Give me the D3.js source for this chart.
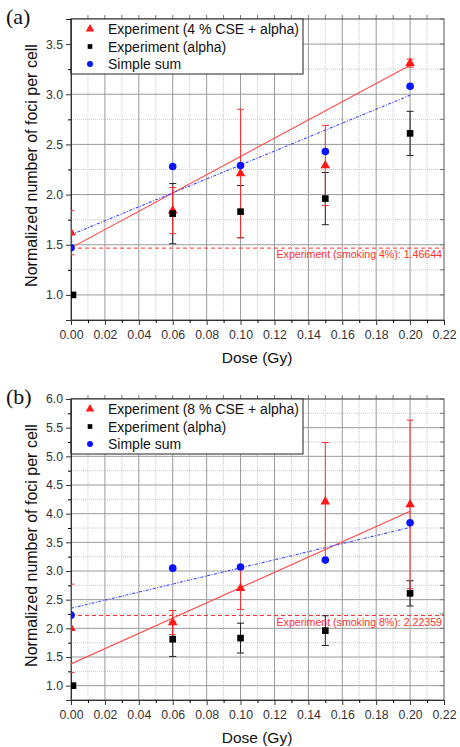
<!DOCTYPE html>
<html>
<head>
<meta charset="utf-8">
<script src="https://cdn.jsdelivr.net/npm/d3@7"></script>
<style>
  body { margin: 0; background: #fff; }
  svg { display: block; font-family: "Liberation Sans", Arial, sans-serif; }
</style>
</head>
<body>
<div id="chart"></div>
<script>
// shared dose points
const doses = [0, 0.06, 0.10, 0.15, 0.20];

// alpha only experiment
const alphaMean = [1.00, 1.81, 1.83, 1.96, 2.61];
const alphaErr = [0, 0.30, 0.26, 0.26, 0.22];

// panel (a): 4 % CSE
const cse4Mean = [1.62, 1.84, 2.21, 2.29, 3.31];
const cse4Err = [0.22, 0.23, 0.64, 0.40, 0.04];
const sum4 = [1.47, 2.28, 2.29, 2.43, 3.08];
const cse4Fit = [1.47, 3.29];   // at dose 0 and 0.20
const sum4Fit = [1.60, 2.99];
const smoking4 = 1.46644;

// panel (b): 8 % CSE
const cse8Mean = [2.00, 2.10, 2.70, 4.21, 4.16];
const cse8Err = [0.77, 0.21, 0.37, 1.03, 1.47];
const sum8 = [2.23, 3.05, 3.07, 3.19, 3.84];
const cse8Fit = [1.38, 4.04];
const sum8Fit = [2.35, 3.76];
const smoking8 = 2.22359;

const fitDoses = [0, 0.20];
const xTicks = d3.range(0, 0.2201, 0.02);
const xMinor = d3.range(0.01, 0.22, 0.02);

const svg = d3.select('#chart').append('svg')
  .attr('width', 460)
  .attr('height', 747);

const panels = [
  {
    tag: '(a)', top: 19, bottom: 320, yDomain: [0.75, 3.75],
    yTicks: d3.range(1.0, 3.51, 0.5), yMinor: d3.range(1.25, 3.76, 0.5),
    cse: cse4Mean, cseErr: cse4Err, sum: sum4, cseFit: cse4Fit, sumFit: sum4Fit,
    smoking: smoking4, cseLabel: 'Experiment (4 % CSE + alpha)',
    smokeLabel: 'Experiment (smoking 4%): 1.46644'
  },
  {
    tag: '(b)', top: 399, bottom: 700, yDomain: [0.75, 6.0],
    yTicks: d3.range(1.0, 6.01, 0.5), yMinor: d3.range(1.25, 5.76, 0.5),
    cse: cse8Mean, cseErr: cse8Err, sum: sum8, cseFit: cse8Fit, sumFit: sum8Fit,
    smoking: smoking8, cseLabel: 'Experiment (8 % CSE + alpha)',
    smokeLabel: 'Experiment (smoking 8%): 2.22359'
  }
];

const left = 71, right = 444;
const red = '#ff1a1a', blue = '#0a14ff';

panels.forEach((p, pi) => {
  const x = d3.scaleLinear().domain([0, 0.22]).range([left, right]);
  const y = d3.scaleLinear().domain(p.yDomain).range([p.bottom, p.top]);
  const g = svg.append('g');

  // minor grid
  g.append('g').selectAll('line').data(xMinor).enter().append('line')
    .attr('x1', d => x(d)).attr('x2', d => x(d))
    .attr('y1', p.top).attr('y2', p.bottom)
    .attr('stroke', '#c8c8c8').attr('stroke-dasharray', '1,1');
  g.append('g').selectAll('line').data(p.yMinor).enter().append('line')
    .attr('x1', left).attr('x2', right)
    .attr('y1', d => y(d)).attr('y2', d => y(d))
    .attr('stroke', '#c8c8c8').attr('stroke-dasharray', '1,1');

  // major grid
  g.append('g').selectAll('line').data(xTicks.slice(1, -1)).enter().append('line')
    .attr('x1', d => x(d)).attr('x2', d => x(d))
    .attr('y1', p.top).attr('y2', p.bottom)
    .attr('stroke', '#9a9a9a');
  g.append('g').selectAll('line').data(p.yTicks).enter().append('line')
    .attr('x1', left).attr('x2', right)
    .attr('y1', d => y(d)).attr('y2', d => y(d))
    .attr('stroke', '#9a9a9a');

  // top / right ticks
  g.append('g').selectAll('line').data(d3.range(0.01, 0.22, 0.01)).enter().append('line')
    .attr('x1', d => x(d)).attr('x2', d => x(d))
    .attr('y1', p.top).attr('y2', p.top - 4)
    .attr('stroke', '#777');
  g.append('g').selectAll('line').data(p.yTicks.concat(p.yMinor)).enter().append('line')
    .attr('x1', right).attr('x2', right - 4)
    .attr('y1', d => y(d)).attr('y2', d => y(d))
    .attr('stroke', '#777');

  // frame
  g.append('rect')
    .attr('x', left).attr('y', p.top)
    .attr('width', right - left).attr('height', p.bottom - p.top)
    .attr('fill', 'none').attr('stroke', '#555');

  // legend box (covers grid)
  const lgH = 55;
  g.append('rect')
    .attr('x', left).attr('y', p.top)
    .attr('width', 232).attr('height', lgH)
    .attr('fill', '#fff').attr('stroke', '#222');

  // axes
  const xAxis = g.append('g')
    .attr('transform', `translate(0,${p.bottom})`)
    .call(d3.axisBottom(x).tickValues(xTicks).tickFormat(d3.format('.2f')).tickSize(5));
  g.append('g')
    .attr('transform', `translate(0,${p.bottom})`)
    .call(d3.axisBottom(x).tickValues(xMinor).tickFormat('').tickSize(3))
    .call(a => a.select('.domain').remove());
  const yAxis = g.append('g')
    .attr('transform', `translate(${left},0)`)
    .call(d3.axisLeft(y).tickValues(p.yTicks).tickFormat(d3.format('.1f')).tickSize(5));
  g.append('g')
    .attr('transform', `translate(${left},0)`)
    .call(d3.axisLeft(y).tickValues(p.yMinor).tickFormat('').tickSize(3))
    .call(a => a.select('.domain').remove());
  [xAxis, yAxis].forEach(a => {
    a.select('.domain').attr('stroke', '#333');
    a.selectAll('.tick line').attr('stroke', '#333');
    a.selectAll('text').attr('fill', '#333').attr('font-size', 12.3)
      .attr('font-family', '"Liberation Sans", Arial, sans-serif');
  });
  xAxis.selectAll('text').attr('dy', '0.9em');

  // clip for data marks
  const clipId = 'clip' + pi;
  svg.append('clipPath').attr('id', clipId).append('rect')
    .attr('x', left).attr('y', p.top).attr('width', right - left).attr('height', p.bottom - p.top);
  const d = g.append('g').attr('clip-path', `url(#${clipId})`);

  // smoking reference line
  d.append('line')
    .attr('x1', x(0)).attr('x2', x(0.22))
    .attr('y1', y(p.smoking)).attr('y2', y(p.smoking))
    .attr('stroke', '#ff3030').attr('stroke-dasharray', '4,3');
  g.append('text')
    .attr('x', right - 2).attr('y', y(p.smoking) + 10)
    .attr('text-anchor', 'end').attr('font-size', 10.6)
    .attr('fill', '#ff3030').text(p.smokeLabel);

  // fits
  const fitLine = vals => d3.line().x((v, i) => x(fitDoses[i])).y(v => y(v))(vals);
  d.append('path').attr('d', fitLine(p.cseFit))
    .attr('fill', 'none').attr('stroke', '#ff4a4a').attr('stroke-width', 1.1);
  d.append('path').attr('d', fitLine(p.sumFit))
    .attr('fill', 'none').attr('stroke', '#3c46ff').attr('stroke-width', 1.1)
    .attr('stroke-dasharray', '3,1.5,1,1.5');

  // error bars
  const errBars = (mean, err, color) => {
    const eg = d.append('g').attr('stroke', color).attr('stroke-width', 1);
    doses.forEach((dv, i) => {
      if (!err[i]) return;
      const cx = x(dv), y0 = y(mean[i] - err[i]), y1 = y(mean[i] + err[i]);
      eg.append('line').attr('x1', cx).attr('x2', cx).attr('y1', y0).attr('y2', y1);
      eg.append('line').attr('x1', cx - 3.5).attr('x2', cx + 3.5).attr('y1', y0).attr('y2', y0);
      eg.append('line').attr('x1', cx - 3.5).attr('x2', cx + 3.5).attr('y1', y1).attr('y2', y1);
    });
  };
  errBars(alphaMean, alphaErr, '#222');
  errBars(p.cse, p.cseErr, '#ff3030');

  // markers
  const tri = d3.symbol().type(d3.symbolTriangle).size(40);
  const sq = d3.symbol().type(d3.symbolSquare).size(44);
  d.append('g').selectAll('path').data(doses).enter().append('path')
    .attr('d', tri)
    .attr('transform', (dv, i) => `translate(${x(dv)},${y(p.cse[i])})`)
    .attr('fill', red);
  d.append('g').selectAll('path').data(doses).enter().append('path')
    .attr('d', sq)
    .attr('transform', (dv, i) => `translate(${x(dv) + (dv === 0 ? 2 : 0)},${y(alphaMean[i])})`)
    .attr('fill', '#000');
  d.append('g').selectAll('circle').data(doses).enter().append('circle')
    .attr('cx', dv => x(dv)).attr('cy', (dv, i) => y(p.sum[i]))
    .attr('r', 3.8).attr('fill', blue);

  // legend entries
  const items = [
    { label: p.cseLabel, kind: 'tri', color: red },
    { label: 'Experiment (alpha)', kind: 'sq', color: '#000' },
    { label: 'Simple sum', kind: 'circ', color: blue }
  ];
  items.forEach((it, i) => {
    const ly = p.top + 10 + i * 17.5;
    const mx = left + 19;
    if (it.kind === 'tri') {
      g.append('path').attr('d', d3.symbol().type(d3.symbolTriangle).size(32))
        .attr('transform', `translate(${mx},${ly})`).attr('fill', it.color);
    } else if (it.kind === 'sq') {
      g.append('path').attr('d', d3.symbol().type(d3.symbolSquare).size(22))
        .attr('transform', `translate(${mx},${ly})`).attr('fill', it.color);
    } else {
      g.append('circle').attr('cx', mx).attr('cy', ly).attr('r', 3).attr('fill', it.color);
    }
    g.append('text')
      .attr('x', left + 37).attr('y', ly + 5)
      .attr('font-size', 14).attr('fill', '#111').text(it.label);
  });

  // axis titles
  g.append('text')
    .attr('transform', `translate(37,${(p.top + p.bottom) / 2 - 4}) rotate(-90)`)
    .attr('text-anchor', 'middle').attr('font-size', 16).attr('fill', '#111')
    .text('Normalized number of foci per cell');
  g.append('text')
    .attr('x', 257).attr('y', p.bottom + 43)
    .attr('text-anchor', 'middle').attr('font-size', 15.5).attr('fill', '#111')
    .text('Dose (Gy)');

  // panel tag
  g.append('text')
    .attr('x', 6).attr('y', p.top + 5)
    .attr('font-family', '"Liberation Serif", "Times New Roman", serif')
    .attr('font-size', 22).attr('fill', '#111')
    .text(p.tag);
});
</script>
</body>
</html>
